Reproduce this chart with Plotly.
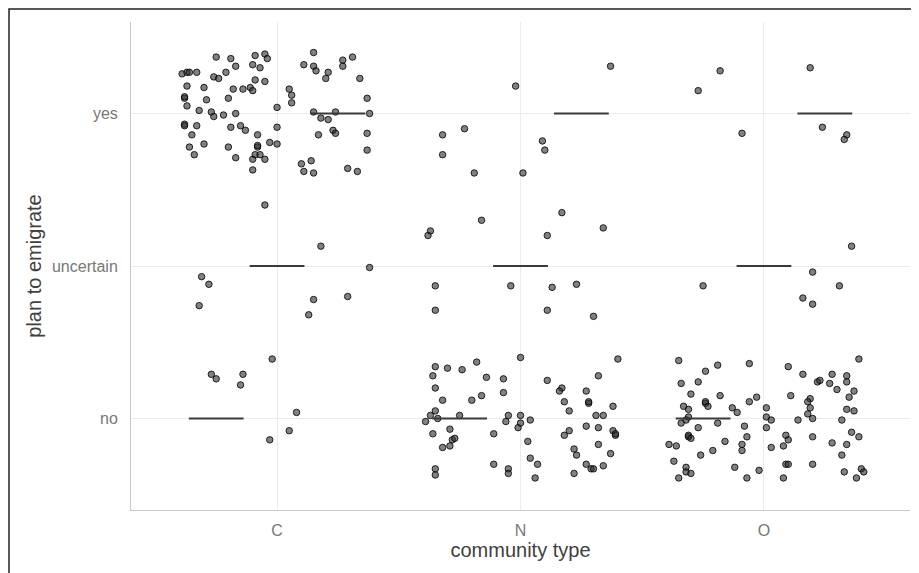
import plotly.graph_objects as go

# categories
community_types = ["C", "N", "O"]
plan_levels = ["no", "uncertain", "yes"]

# jittered observations (x: community position + jitter, y: plan level position + jitter)
C_x = [0.75, 0.81, 0.91, 0.95, 0.96, 0.83, 0.90, 0.93, 0.61, 0.63, 0.64, 0.67, 0.74, 0.76, 0.79,
       0.63, 0.70, 0.82, 0.86, 0.89, 0.90, 0.91, 0.95, 0.62, 0.62, 0.71, 0.80, 0.63, 0.68, 0.73,
       0.74, 0.78, 0.83, 1.00, 0.62, 0.62, 0.67, 0.81, 0.85, 0.87, 1.00, 0.65, 0.92, 0.64, 0.70,
       0.80, 0.92, 0.92, 0.97, 1.00, 0.66, 0.83, 0.90, 0.91, 0.93, 0.95, 0.90,
       1.15, 1.11, 1.15, 1.16, 1.21, 1.20, 1.27, 1.31, 1.27, 1.34, 1.05, 1.06, 1.06, 1.37, 1.15,
       1.24, 1.38, 1.18, 1.21, 1.23, 1.24, 1.17, 1.37, 1.37, 1.10, 1.14, 1.11, 1.15, 1.29, 1.33,
       0.95, 1.18, 1.38, 0.69, 0.72, 0.68, 1.15, 1.29, 1.13,
       0.98, 0.73, 0.75, 0.86, 0.85, 1.08, 1.05, 0.97]
C_y = [3.37, 3.36, 3.38, 3.39, 3.36, 3.31, 3.32, 3.30, 3.26, 3.27, 3.27, 3.27, 3.24, 3.23, 3.27,
       3.18, 3.17, 3.16, 3.16, 3.17, 3.15, 3.22, 3.21, 3.10, 3.11, 3.09, 3.10, 3.05, 3.02, 3.01,
       2.98, 2.99, 3.00, 3.04, 2.93, 2.92, 2.92, 2.91, 2.92, 2.89, 2.91, 2.86, 2.86, 2.78, 2.80,
       2.78, 2.78, 2.79, 2.81, 2.80, 2.73, 2.71, 2.70, 2.73, 2.73, 2.70, 2.63,
       3.40, 3.32, 3.31, 3.28, 3.27, 3.23, 3.35, 3.37, 3.31, 3.23, 3.16, 3.12, 3.07, 3.10, 3.01,
       3.01, 3.00, 2.97, 2.96, 2.89, 2.87, 2.86, 2.87, 2.76, 2.67, 2.69, 2.62, 2.61, 2.64, 2.62,
       2.40, 2.13, 1.99, 1.93, 1.88, 1.74, 1.78, 1.80, 1.68,
       1.39, 1.29, 1.26, 1.29, 1.22, 1.04, 0.92, 0.86]

N_x = [2.37, 1.98, 1.77, 1.68, 1.68, 1.81, 2.01, 2.09, 2.10,
       1.84, 1.63, 1.62, 2.17, 2.34, 2.11, 1.65, 1.96, 1.65, 2.13, 2.23, 2.11, 2.30,
       2.00, 2.40, 1.65, 1.70, 1.76, 1.82, 1.64, 1.86, 1.93, 1.65, 1.68, 1.80, 1.84, 1.93,
       1.65, 1.63, 1.66, 1.75, 1.61, 1.71, 1.64, 1.72, 1.73, 1.68, 1.71, 1.65, 1.65,
       1.95, 2.00, 1.94, 1.99, 2.00, 2.04, 1.89, 2.03, 2.04, 2.07, 1.89, 1.95, 1.95, 2.06,
       2.11, 2.17, 2.16, 2.32, 2.27, 2.18, 2.28, 2.28, 2.38, 2.20, 2.31, 2.34, 2.27, 2.32,
       2.38, 2.39, 2.39, 2.20, 2.18, 2.32, 2.22, 2.23, 2.37, 2.27, 2.29, 2.30, 2.34, 2.22]
N_y = [3.31, 3.18, 2.90, 2.86, 2.73, 2.61, 2.61, 2.82, 2.76,
       2.30, 2.23, 2.20, 2.35, 2.25, 2.20, 1.87, 1.87, 1.71, 1.86, 1.88, 1.71, 1.67,
       1.40, 1.39, 1.34, 1.33, 1.32, 1.37, 1.28, 1.27, 1.26, 1.20, 1.12, 1.12, 1.15, 1.17,
       1.05, 1.02, 1.00, 1.02, 0.98, 0.93, 0.90, 0.86, 0.87, 0.81, 0.82, 0.67, 0.63,
       1.02, 1.02, 0.98, 0.94, 0.97, 0.99, 0.90, 0.85, 0.74, 0.70, 0.70, 0.67, 0.64, 0.61,
       1.25, 1.20, 1.18, 1.28, 1.18, 1.11, 1.10, 1.11, 1.08, 1.05, 1.02, 1.02, 0.95, 0.94,
       0.92, 0.89, 0.90, 0.92, 0.89, 0.83, 0.80, 0.76, 0.77, 0.70, 0.67, 0.67, 0.69, 0.64]

O_x = [2.82, 2.73, 2.91, 3.19, 3.24, 3.34, 3.33,
       3.36, 3.20, 3.31, 3.16, 3.20, 2.75,
       2.65, 2.81, 2.76, 2.94, 2.66, 2.73, 2.70, 2.82, 2.76, 2.76, 2.77, 2.94, 2.97, 2.67,
       2.69, 2.87, 2.89, 3.01, 2.69, 2.66, 2.68, 2.73, 2.81, 2.92, 3.01, 3.03, 3.01, 2.69,
       2.69, 2.70, 2.93, 2.84, 2.61, 2.64, 2.91, 2.79, 2.91, 2.74, 2.63, 2.68, 2.68, 2.70,
       2.65, 2.88, 2.98, 2.93,
       3.39, 3.10, 3.16, 3.28, 3.34, 3.22, 3.23, 3.27, 3.34, 3.30, 3.37, 3.11, 3.35, 3.19,
       3.18, 3.19, 3.18, 3.20, 3.14, 3.34, 3.37, 3.32, 3.36, 3.39, 3.20, 3.09, 3.10, 3.28,
       3.34, 3.08, 3.03, 3.32, 3.09, 3.10, 3.20, 3.33, 3.40, 3.41, 3.38, 3.08]
O_y = [3.28, 3.15, 2.87, 3.30, 2.91, 2.86, 2.83,
       2.13, 1.96, 1.87, 1.79, 1.75, 1.87,
       1.38, 1.35, 1.31, 1.36, 1.23, 1.24, 1.16, 1.15, 1.10, 1.11, 1.08, 1.11, 1.14, 1.08,
       1.06, 1.07, 1.04, 1.07, 1.01, 0.97, 0.99, 0.94, 0.97, 0.95, 1.01, 0.99, 0.94, 0.88,
       0.89, 0.87, 0.88, 0.85, 0.83, 0.82, 0.83, 0.79, 0.79, 0.76, 0.72, 0.68, 0.65, 0.64,
       0.61, 0.68, 0.66, 0.61,
       1.39, 1.34, 1.29, 1.29, 1.28, 1.24, 1.25, 1.23, 1.24, 1.19, 1.18, 1.15, 1.14, 1.13,
       1.11, 1.07, 1.03, 1.00, 0.99, 1.06, 1.05, 0.99, 0.91, 0.88, 0.88, 0.89, 0.86, 0.84,
       0.83, 0.82, 0.81, 0.76, 0.70, 0.70, 0.70, 0.65, 0.67, 0.65, 0.61, 0.61]

# group medians (three dodged groups per community type)
group_offsets = [-0.25, 0.0, 0.25]
C_median = ["no", "uncertain", "yes"]
N_median = ["no", "uncertain", "yes"]
O_median = ["no", "uncertain", "yes"]
seg_half_width = 0.1125

fig = go.Figure()

pts_x = C_x + N_x + O_x
pts_y = C_y + N_y + O_y
fig.add_trace(go.Scatter(
    x=pts_x, y=pts_y, mode="markers",
    marker=dict(size=6.5, color="rgba(45,45,45,0.6)",
                line=dict(color="rgba(0,0,0,0.8)", width=1)),
    hoverinfo="skip", showlegend=False))

seg_x, seg_y = [], []
for ci, meds in enumerate([C_median, N_median, O_median]):
    for off, m in zip(group_offsets, meds):
        cx = ci + 1 + off
        yv = plan_levels.index(m) + 1
        seg_x += [cx - seg_half_width, cx + seg_half_width, None]
        seg_y += [yv, yv, None]
fig.add_trace(go.Scatter(x=seg_x, y=seg_y, mode="lines",
                         line=dict(color="#3a3a3a", width=1.8),
                         hoverinfo="skip", showlegend=False))

font_family = "Liberation Sans, Arial, sans-serif"
fig.update_layout(
    width=911, height=565,
    margin=dict(l=123, r=9, t=14, b=63),
    paper_bgcolor="white", plot_bgcolor="white",
    font=dict(family=font_family),
    xaxis=dict(
        range=[0.4, 3.6], tickvals=[1, 2, 3], ticktext=community_types,
        showgrid=True, gridcolor="#ebebeb", gridwidth=1,
        showline=True, linecolor="#c8c8c8", linewidth=1,
        zeroline=False, ticks="", ticklabelstandoff=6,
        tickfont=dict(size=16, color="#777777"),
        title=dict(text="community type", font=dict(size=20, color="#404040"), standoff=4),
    ),
    yaxis=dict(
        range=[0.4, 3.6], tickvals=[1, 2, 3], ticktext=plan_levels,
        showgrid=True, gridcolor="#ebebeb", gridwidth=1,
        showline=True, linecolor="#c8c8c8", linewidth=1,
        zeroline=False, ticks="", ticklabelstandoff=9,
        tickfont=dict(size=16, color="#777777"),
        title=dict(text="plan to emigrate", font=dict(size=20, color="#404040"), standoff=4),
    ),
)

# outer frame around the figure
fig.add_shape(type="rect", xref="paper", yref="paper",
              x0=-0.1566, x1=1.009, y0=-0.16, y1=1.0266,
              line=dict(color="#222222", width=1.5), layer="above")

fig.write_html("out.html")
